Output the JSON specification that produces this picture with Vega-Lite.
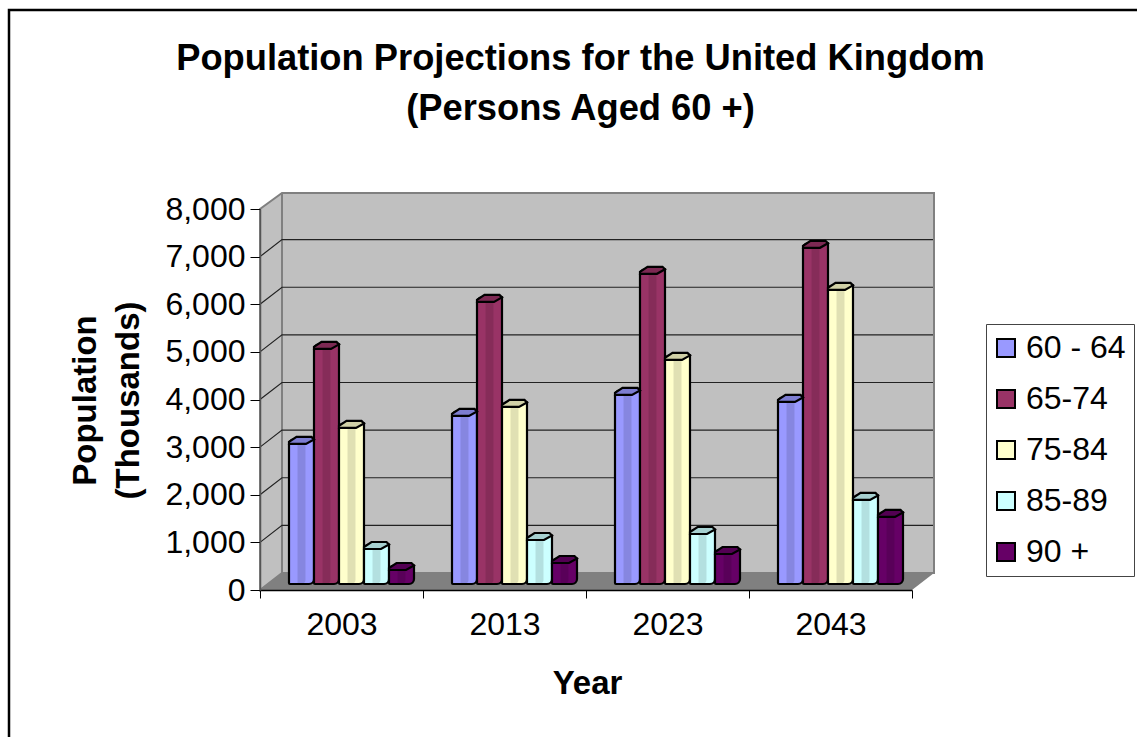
{
"$schema":"https://vega.github.io/schema/vega-lite/v6.json",
"width":1137,"height":737,
"autosize":{"type":"none"},
"padding":{"left":9,"top":10,"right":0,"bottom":0},
"background":"white",
"config":{"font":"Liberation Sans","view":{"stroke":"#000","strokeWidth":2.5,"fill":"white"}},
"title":{"text":["Population Projections for the United Kingdom","(Persons Aged 60 +)"],"font":"Liberation Sans","fontSize":36.3,"fontWeight":"bold","color":"#000","lineHeight":50,"anchor":"middle","frame":"group","dx":3,"offset":-117.5},
"datasets":{
"origin":[{"year":"2003","value":0}],
"ticks":[{"year":"2003","value":1000},{"year":"2003","value":2000},{"year":"2003","value":3000},{"year":"2003","value":4000},{"year":"2003","value":5000},{"year":"2003","value":6000},{"year":"2003","value":7000}],
"bars":[
{"year":"2003","group":"60 - 64","value":2941},{"year":"2003","group":"65-74","value":4937},{"year":"2003","group":"75-84","value":3277},{"year":"2003","group":"85-89","value":735},{"year":"2003","group":"90 +","value":294},
{"year":"2013","group":"60 - 64","value":3529},{"year":"2013","group":"65-74","value":5924},{"year":"2013","group":"75-84","value":3718},{"year":"2013","group":"85-89","value":924},{"year":"2013","group":"90 +","value":441},
{"year":"2023","group":"60 - 64","value":3970},{"year":"2023","group":"65-74","value":6513},{"year":"2023","group":"75-84","value":4706},{"year":"2023","group":"85-89","value":1050},{"year":"2023","group":"90 +","value":630},
{"year":"2043","group":"60 - 64","value":3824},{"year":"2043","group":"65-74","value":7059},{"year":"2043","group":"75-84","value":6176},{"year":"2043","group":"85-89","value":1765},{"year":"2043","group":"90 +","value":1408}
]},
"encoding":{
"x":{"field":"year","type":"nominal","scale":{"type":"band","domain":["2003","2013","2023","2043"],"range":[251,903],"paddingInner":0,"paddingOuter":0},
"axis":{"orient":"bottom","offset":-157,"zindex":1,"title":"Year","titleFontSize":33,"titleFont":"Liberation Sans","titleFontWeight":"bold","titleColor":"#000","titleX":578,"titleY":77,"labelAngle":0,"labelFontSize":32,"labelFont":"Liberation Sans","labelColor":"#000","labelPadding":11,"tickBand":"extent","tickSize":8,"tickColor":"#000","tickWidth":1,"domainColor":"#000","domainWidth":1.5,"grid":false}},
"y":{"field":"value","type":"quantitative","stack":null,"scale":{"domain":[0,8000],"range":[580,199],"nice":false,"zero":true},
"axis":{"orient":"left","offset":-251,"zindex":1,"values":[0,1000,2000,3000,4000,5000,6000,7000,8000],"labelExpr":"format(datum.value, ',.0f')","title":["Population","(Thousands)"],"titleFontSize":33,"titleFont":"Liberation Sans","titleFontWeight":"bold","titleColor":"#000","titleX":-158,"titleY":390,"titleAngle":-90,"titleLineHeight":43,"labelFontSize":32,"labelFont":"Liberation Sans","labelColor":"#000","labelPadding":5,"tickSize":10,"tickColor":"#000","tickWidth":1,"domainColor":"#555","domainWidth":1.5,"grid":false}}
},
"layer":[
{"data":{"name":"origin"},"mark":{"type":"point","filled":true,"opacity":1,"size":4,"fill":"#c0c0c0","stroke":"#808080","strokeWidth":2,"shape":"M-81.5 0 L-81.5 -381 L-59.5 -397 L592.5 -397 L592.5 -17 L-59.5 -17 L-81.5 0 Z M-59.5 -397 L-59.5 -17"}},
{"data":{"name":"origin"},"mark":{"type":"point","filled":true,"opacity":1,"size":4,"fill":"#808080","shape":"M-81.5 0 L570.5 0 L592.5 -17 L-59.5 -17 Z"}},
{"data":{"name":"ticks"},"mark":{"type":"point","filled":false,"opacity":1,"size":4,"stroke":"#222","strokeWidth":1.2,"shape":"M-81.5 0 L-59.5 -17 L591.5 -17"}},
{"data":{"name":"bars"},"mark":{"type":"bar","width":25,"stroke":"#000","strokeWidth":2.2,"yOffset":-10.5,"cornerRadiusBottomRight":5,"cornerRadiusBottomLeft":1,"cornerRadiusTopLeft":5},
"encoding":{"y2":{"datum":126},"xOffset":{"field":"group","type":"nominal","scale":{"type":"band","domain":["60 - 64","65-74","75-84","85-89","90 +"],"range":[29,154],"paddingInner":0,"paddingOuter":0}},
"fill":{"field":"group","type":"nominal","scale":{"domain":["60 - 64","65-74","75-84","85-89","90 +"],"range":["#9999ff","#993366","#ffffcc","#ccffff","#660066"]},
"legend":{"title":null,"orient":"none","legendX":977,"legendY":314,"padding":8,"fillColor":"#fff","strokeColor":"#444","symbolType":"square","symbolSize":324,"symbolStrokeColor":"#000","symbolStrokeWidth":2,"symbolOpacity":1,"symbolOffset":-4,"labelFontSize":32,"labelFont":"Liberation Sans","labelColor":"#000","labelLimit":200,"rowPadding":19,"labelOffset":4}}}},
{"data":{"name":"bars"},"mark":{"type":"bar","width":8,"xOffset":8.5,"fill":"#000","opacity":0.12,"yOffset":-10.5,"cornerRadiusBottomRight":5},
"encoding":{"y2":{"datum":126},"xOffset":{"field":"group","type":"nominal"}}},
{"data":{"name":"bars"},"mark":{"type":"point","filled":true,"opacity":1,"size":4,"stroke":"#000","strokeWidth":2.2,"shape":"M-12.5 -6 L-12.5 -8 L-5 -13 L10 -13 L12.5 -10.5 L4.5 -6 Z"},
"encoding":{"xOffset":{"field":"group","type":"nominal"},"fill":{"field":"group","type":"nominal","legend":null}}},
{"data":{"name":"bars"},"mark":{"type":"point","filled":true,"opacity":0.18,"size":4,"fill":"#000","shape":"M-12.5 -6 L-12.5 -8 L-5 -13 L10 -13 L12.5 -10.5 L4.5 -6 Z"},
"encoding":{"xOffset":{"field":"group","type":"nominal"}}}
]
}
